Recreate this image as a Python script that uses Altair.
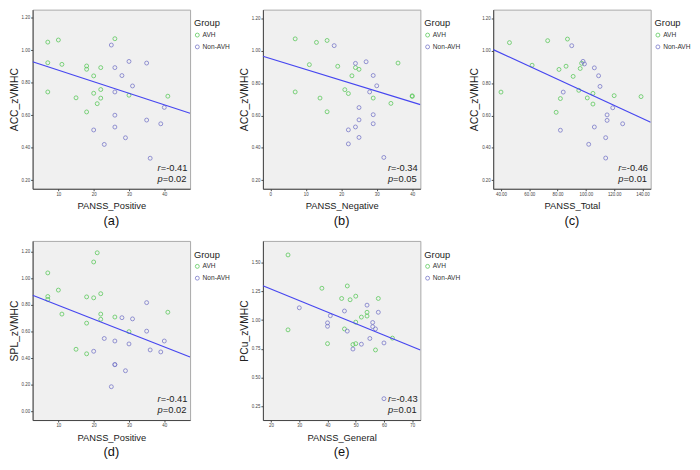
import altair as alt
import pandas as pd

FONT = "Liberation Sans"
GROUPS = ["AVH", "Non-AVH"]
COLORS = ["#5cc85c", "#7878c8"]
LINE_COLOR = "#4646f0"
W, H = 160, 182

# ---------------- panel (a) ----------------
a_avh_x = [7, 10, 26, 7, 11, 18, 18, 22, 20, 22, 7, 20, 15, 22, 21, 30, 41, 18]
a_avh_y = [1.050, 1.063, 1.071, 0.923, 0.913, 0.903, 0.883, 0.893, 0.842, 0.758,
           0.743, 0.735, 0.707, 0.705, 0.671, 0.723, 0.717, 0.620]
a_non_x = [25, 26, 30, 35, 28, 31, 26, 40, 26, 35, 39, 20, 26, 29, 23, 36]
a_non_y = [1.032, 0.893, 0.931, 0.921, 0.844, 0.780, 0.743, 0.648, 0.600, 0.570,
           0.547, 0.509, 0.527, 0.461, 0.420, 0.335]
a_line_x = [2.7, 47.3]
a_line_y = [0.929, 0.612]

# ---------------- panel (b) ----------------
b_avh_x = [7, 16, 13, 11, 19, 24, 25, 23, 36, 21, 7, 22, 14, 29, 34, 40, 40, 16]
b_avh_y = [1.075, 1.065, 1.053, 0.915, 0.905, 0.897, 0.886, 0.846, 0.925, 0.760,
           0.746, 0.736, 0.708, 0.708, 0.675, 0.722, 0.718, 0.623]
b_non_x = [18, 24, 27, 29, 30, 28, 25, 29, 25, 29, 22, 24, 25, 22, 32]
b_non_y = [1.033, 0.923, 0.933, 0.848, 0.784, 0.746, 0.649, 0.605, 0.573, 0.549,
           0.511, 0.529, 0.464, 0.424, 0.340]
b_line_x = [-2.1, 42.3]
b_line_y = [0.967, 0.667]

# ---------------- panel (c) ----------------
c_avh_x = [46, 73, 87, 62, 97, 86, 81, 96, 91, 95, 105, 40, 82, 101, 105, 120, 139, 79]
c_avh_y = [1.051, 1.063, 1.073, 0.911, 0.923, 0.905, 0.885, 0.891, 0.842, 0.756,
           0.737, 0.745, 0.705, 0.709, 0.671, 0.723, 0.717, 0.620]
c_non_x = [90, 98, 99, 106, 109, 110, 84, 119, 115, 115, 126, 82, 106, 114, 102, 114]
c_non_y = [1.032, 0.935, 0.919, 0.895, 0.846, 0.780, 0.745, 0.648, 0.604, 0.570,
           0.549, 0.509, 0.529, 0.463, 0.422, 0.337]
c_line_x = [34.5, 145.8]
c_line_y = [1.008, 0.558]

# ---------------- panel (d) ----------------
d_avh_x = [21, 20, 7, 10, 7, 7, 18, 20, 22, 11, 22, 22, 18, 26, 30, 41, 15, 18]
d_avh_y = [1.190, 1.121, 1.039, 0.910, 0.862, 0.840, 0.859, 0.852, 0.883, 0.730,
           0.730, 0.691, 0.662, 0.708, 0.598, 0.744, 0.466, 0.432]
d_non_x = [35, 28, 31, 35, 23, 26, 30, 40, 36, 39, 20, 26, 26, 29, 25]
d_non_y = [0.816, 0.703, 0.694, 0.602, 0.547, 0.528, 0.506, 0.528, 0.461, 0.446,
           0.451, 0.350, 0.352, 0.305, 0.185]
d_line_x = [2.7, 47.3]
d_line_y = [0.871, 0.408]

# ---------------- panel (e) ----------------
e_avh_x = [26, 38, 47, 45, 50, 48, 58, 54, 54, 52, 50, 26, 46, 40, 50, 49, 63, 57]
e_avh_y = [1.567, 1.277, 1.297, 1.188, 1.208, 1.177, 1.188, 1.068, 1.035, 1.026,
           0.982, 0.915, 0.923, 0.795, 0.795, 0.787, 0.843, 0.740]
e_non_x = [30, 54, 46, 58, 41, 40, 40, 56, 56, 57, 47, 55, 60, 52, 49, 60]
e_non_y = [1.107, 1.130, 1.079, 1.068, 1.038, 0.976, 0.946, 0.979, 0.943, 0.923,
           0.904, 0.840, 0.801, 0.790, 0.748, 0.316]
e_line_x = [17.1, 72.9]
e_line_y = [1.299, 0.740]

# axis settings per panel
x_domains = {"a": [2.7, 47.3], "b": [-2.1, 42.3], "c": [34.5, 145.8], "d": [2.7, 47.3], "e": [17.1, 72.9]}
y_domains = {"a": [0.147, 1.25], "b": [0.146, 1.256], "c": [0.147, 1.255], "d": [-0.065, 1.279], "e": [0.13, 1.689]}
x_ticks = {"a": [10, 20, 30, 40], "b": [0, 10, 20, 30, 40], "c": [40, 60, 80, 100, 120, 140],
           "d": [10, 20, 30, 40], "e": [20, 30, 40, 50, 60, 70]}
y_ticks = {"a": [0.2, 0.4, 0.6, 0.8, 1.0, 1.2], "b": [0.2, 0.4, 0.6, 0.8, 1.0, 1.2],
           "c": [0.2, 0.4, 0.6, 0.8, 1.0, 1.2], "d": [0.0, 0.2, 0.4, 0.6, 0.8, 1.0, 1.2],
           "e": [0.25, 0.5, 0.75, 1.0, 1.25, 1.5]}
x_formats = {"a": "d", "b": "d", "c": ".2f", "d": "d", "e": "d"}
x_titles = {"a": "PANSS_Positive", "b": "PANSS_Negative", "c": "PANSS_Total",
            "d": "PANSS_Positive", "e": "PANSS_General"}
y_titles = {"a": "ACC_zVMHC", "b": "ACC_zVMHC", "c": "ACC_zVMHC", "d": "SPL_zVMHC", "e": "PCu_zVMHC"}
r_values = {"a": "=-0.41", "b": "=-0.34", "c": "=-0.46", "d": "=-0.41", "e": "=-0.43"}
p_values = {"a": "=0.02", "b": "=0.05", "c": "=0.01", "d": "=0.02", "e": "=0.01"}

panel_data = {
    "a": (a_avh_x, a_avh_y, a_non_x, a_non_y, a_line_x, a_line_y),
    "b": (b_avh_x, b_avh_y, b_non_x, b_non_y, b_line_x, b_line_y),
    "c": (c_avh_x, c_avh_y, c_non_x, c_non_y, c_line_x, c_line_y),
    "d": (d_avh_x, d_avh_y, d_non_x, d_non_y, d_line_x, d_line_y),
    "e": (e_avh_x, e_avh_y, e_non_x, e_non_y, e_line_x, e_line_y),
}


def panel(key):
    ax, ay, nx, ny, lx, ly = panel_data[key]
    pts = pd.DataFrame({
        "x": ax + nx,
        "y": ay + ny,
        "Group": ["AVH"] * len(ax) + ["Non-AVH"] * len(nx),
    })
    line_df = pd.DataFrame({"x": lx, "y": ly})

    xs = alt.Scale(domain=x_domains[key], nice=False, zero=False)
    ys = alt.Scale(domain=y_domains[key], nice=False, zero=False)

    points = alt.Chart(pts).mark_point(
        shape="circle", filled=False, size=16, strokeWidth=0.8, opacity=1
    ).encode(
        x=alt.X("x:Q", scale=xs, title=x_titles[key],
                axis=alt.Axis(values=x_ticks[key], format=x_formats[key], tickCount=20,
                              labelOverlap=False, labelFlush=False)),
        y=alt.Y("y:Q", scale=ys, title=y_titles[key],
                axis=alt.Axis(values=y_ticks[key], format=".2f", tickCount=20,
                              labelOverlap=False, labelFlush=False)),
        color=alt.Color(
            "Group:N",
            scale=alt.Scale(domain=GROUPS, range=COLORS),
            legend=alt.Legend(
                title="Group", orient="none", legendX=W + 4, legendY=9,
                titleFontSize=9.5, titleFontWeight="normal", titleColor="#222",
                titlePadding=4, labelFontSize=6.7, labelColor="#333",
                symbolType="circle", symbolSize=16, symbolStrokeWidth=0.8,
                rowPadding=3, labelOffset=2, padding=0,
            ),
        ),
    )

    line = alt.Chart(line_df).mark_line(color=LINE_COLOR, strokeWidth=1.2, clip=True).encode(
        x=alt.X("x:Q", scale=xs), y=alt.Y("y:Q", scale=ys)
    )

    tx0 = W - 33
    r_sym = alt.Chart(pd.DataFrame({"t": ["r"]})).mark_text(
        font=FONT, fontSize=9.5, fontStyle="italic", align="left", color="#222"
    ).encode(text="t:N", x=alt.value(tx0), y=alt.value(H - 21))
    r_txt = alt.Chart(pd.DataFrame({"t": [r_values[key]]})).mark_text(
        font=FONT, fontSize=9.5, align="left", color="#222"
    ).encode(text="t:N", x=alt.value(tx0 + 3.2), y=alt.value(H - 21))
    p_sym = alt.Chart(pd.DataFrame({"t": ["p"]})).mark_text(
        font=FONT, fontSize=9.5, fontStyle="italic", align="left", color="#222"
    ).encode(text="t:N", x=alt.value(tx0), y=alt.value(H - 10))
    p_txt = alt.Chart(pd.DataFrame({"t": [p_values[key]]})).mark_text(
        font=FONT, fontSize=9.5, align="left", color="#222"
    ).encode(text="t:N", x=alt.value(tx0 + 5.3), y=alt.value(H - 10))

    return alt.layer(points, line, r_sym, r_txt, p_sym, p_txt).properties(
        width=W, height=H,
        title=alt.TitleParams(f"({key})", orient="bottom", fontSize=13, fontWeight="normal",
                              frame="group", anchor="middle", offset=5, color="#111"),
    )


chart = alt.concat(
    panel("a"), panel("b"), panel("c"), panel("d"), panel("e"),
    columns=3, spacing={"column": 7, "row": 11},
).resolve_scale(color="independent").resolve_legend(color="independent").properties(
    padding={"top": -3, "left": 0, "right": 0, "bottom": 0}
).configure(font=FONT).configure_view(
    fill="#f0f0f0", stroke="#a8a8a8", strokeWidth=1
).configure_axis(
    grid=False, labelFontSize=4.5, labelColor="#444", labelPadding=1,
    tickSize=2, tickColor="#444", domainColor="#444",
    titleFontWeight="normal", titleColor="#222",
).configure_axisX(titleFontSize=9.5, titlePadding=5).configure_axisY(
    titleFontSize=10.5, titlePadding=2
)

chart.save("out.html", embed_options={"renderer": "svg", "actions": False})
